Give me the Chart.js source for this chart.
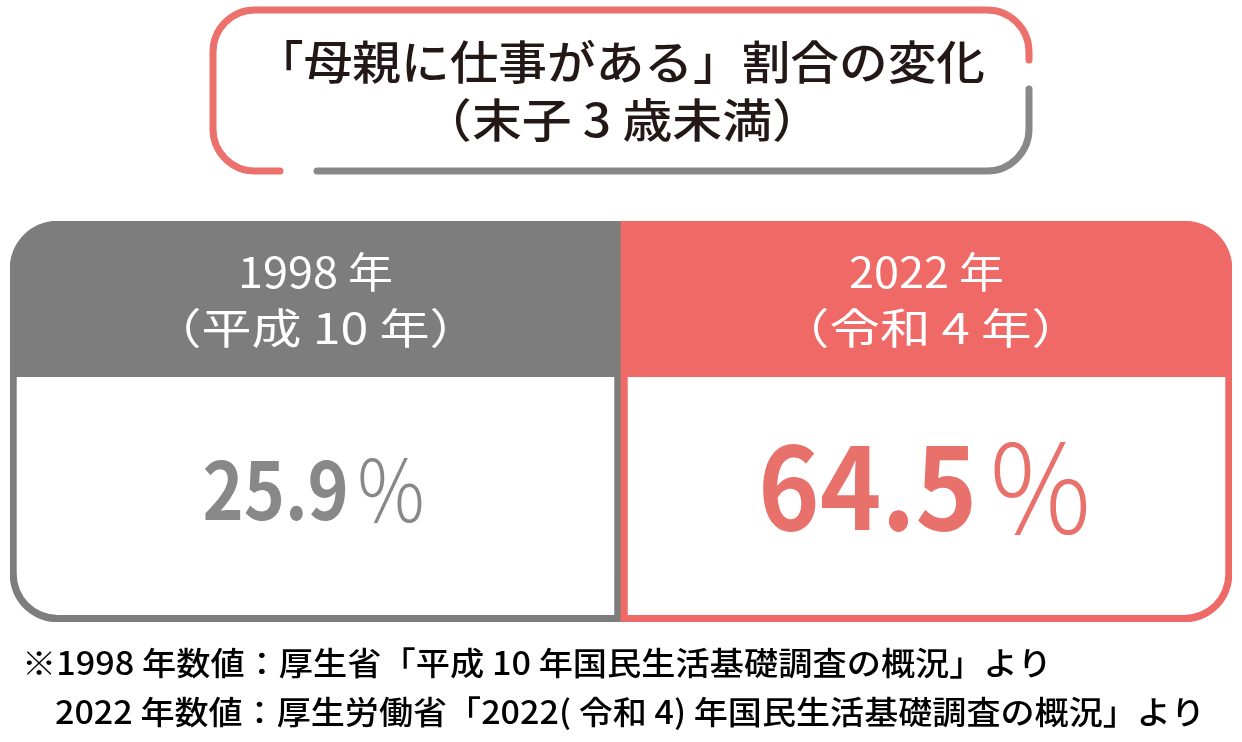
<!DOCTYPE html>
<html lang="ja">
<head>
<meta charset="utf-8">
<title>「母親に仕事がある」割合の変化</title>
<script src="https://cdn.jsdelivr.net/npm/chart.js@4.4.1/dist/chart.umd.min.js"></script>
<style>
    html, body { margin: 0; padding: 0; background: #fff; }
    canvas { display: block; }
</style>
</head>
<body>
<canvas id="shareChart" width="1242" height="742"></canvas>
<script>
const categories = ['1998 年', '2022 年'];
const eras = ['（平成 10 年）', '（令和 4 年）'];
const shares = [25.9, 64.5];
const titleLines = ['「母親に仕事がある」割合の変化', '（末子 3 歳未満）'];
const notes = [
    '※1998 年数値：厚生省「平成 10 年国民生活基礎調査の概況」より',
    '2022 年数値：厚生労働省「2022( 令和 4) 年国民生活基礎調査の概況」より',
];

const red = '#ec716d';
const gray = '#888888';
const headerColors = ['#7d7d7d', '#ef6a66'];
const valueColors = ['#888888', '#e8716c'];
const jp = '"Noto Sans CJK JP", "Noto Sans", sans-serif';

// card area inside each panel, in the hidden 0..1 y scale
const cardBottom = 0.0175;
const cardTop = 0.611;

// draw text centred on (cx, cy), squeezed or stretched to the given width
function fitText(ctx, text, cx, cy, width, font, color) {
    ctx.save();
    ctx.font = font;
    const natural = ctx.measureText(text).width;
    ctx.translate(cx, cy);
    ctx.scale(width / natural, 1);
    ctx.fillStyle = color;
    ctx.textAlign = 'center';
    ctx.textBaseline = 'middle';
    ctx.fillText(text, 0, 0);
    ctx.restore();
}

function drawValue(ctx, value, cx, baseline, width, size, color) {
    const digits = value.toFixed(1);
    const bold = `700 ${size}px ${jp}`;
    const light = `300 ${Math.round(size * 1.08)}px ${jp}`;
    ctx.save();
    ctx.font = bold;
    const wd = ctx.measureText(digits).width;
    ctx.font = light;
    const wp = ctx.measureText('%').width;
    const gap = size * 0.12;
    const k = width / (wd + gap + wp);
    ctx.translate(cx - width / 2, baseline);
    ctx.scale(k, 1);
    ctx.fillStyle = color;
    ctx.textAlign = 'left';
    ctx.textBaseline = 'alphabetic';
    ctx.font = bold;
    ctx.fillText(digits, 0, 0);
    ctx.font = light;
    ctx.fillText('%', wd + gap, size * 0.03);
    ctx.restore();
}

const titleBox = {
    id: 'titleBox',
    beforeDraw(chart) {
        const ctx = chart.ctx;
        const l = 213, r = 1029, t = 10, b = 171, rad = 42;
        ctx.save();
        ctx.lineWidth = 7;
        ctx.lineCap = 'round';

        ctx.strokeStyle = red;
        ctx.beginPath();
        ctx.moveTo(280, b);
        ctx.lineTo(l + rad, b);
        ctx.arcTo(l, b, l, b - rad, rad);
        ctx.lineTo(l, t + rad);
        ctx.arcTo(l, t, l + rad, t, rad);
        ctx.lineTo(r - rad, t);
        ctx.arcTo(r, t, r, t + rad, rad);
        ctx.lineTo(r, 60);
        ctx.stroke();

        ctx.strokeStyle = gray;
        ctx.beginPath();
        ctx.moveTo(r, 89);
        ctx.lineTo(r, b - rad);
        ctx.arcTo(r, b, r - rad, b, rad);
        ctx.lineTo(317, b);
        ctx.stroke();
        ctx.restore();

        fitText(ctx, titleLines[0], 620, 62, 730, `500 46px ${jp}`, '#231815');
        fitText(ctx, titleLines[1], 622, 120, 400, `500 46px ${jp}`, '#231815');
    },
};

const panelText = {
    id: 'panelText',
    afterDatasetsDraw(chart) {
        const ctx = chart.ctx;
        const y = chart.scales.y;
        const bars = chart.getDatasetMeta(1).data;
        const headWidths = [[155, 328], [155, 303]];
        const valueWidths = [222, 333];
        const valueSizes = [80, 114];
        const valueBase = [520, 530];
        bars.forEach((bar, i) => {
            const headMid = (y.getPixelForValue(1) + y.getPixelForValue(cardTop)) / 2;
            fitText(ctx, categories[i], bar.x, headMid - 27, headWidths[i][0], `400 42px ${jp}`, '#ffffff');
            fitText(ctx, eras[i], bar.x + (i ? 4 : 0), headMid + 29, headWidths[i][1], `400 42px ${jp}`, '#ffffff');
            drawValue(ctx, shares[i], bar.x - 2, valueBase[i], valueWidths[i], valueSizes[i], valueColors[i]);
        });
    },
    afterDraw(chart) {
        const ctx = chart.ctx;
        fitText(ctx, notes[0], 22 + 1030 / 2, 663, 1030, `500 32px ${jp}`, '#000000');
        fitText(ctx, notes[1], 55 + 1150 / 2, 712, 1150, `500 32px ${jp}`, '#000000');
    },
};

const outerRadius = 48;
const innerRadius = 41;

new Chart(document.getElementById('shareChart'), {
    type: 'bar',
    data: {
        labels: categories,
        datasets: [
            {
                data: categories.map(() => [0, 1]),
                backgroundColor: headerColors,
                barPercentage: 1,
                categoryPercentage: 1,
                borderSkipped: false,
                order: 2,
                borderRadius: (ctx) => ctx.dataIndex === 0
                    ? { topLeft: outerRadius, bottomLeft: outerRadius, topRight: 0, bottomRight: 0 }
                    : { topLeft: 0, bottomLeft: 0, topRight: outerRadius, bottomRight: outerRadius },
            },
            {
                data: categories.map(() => [cardBottom, cardTop]),
                backgroundColor: '#ffffff',
                barPercentage: 0.978,
                categoryPercentage: 1,
                borderSkipped: false,
                order: 1,
                borderRadius: (ctx) => ctx.dataIndex === 0
                    ? { topLeft: 0, bottomLeft: innerRadius, topRight: 0, bottomRight: 0 }
                    : { topLeft: 0, bottomLeft: 0, topRight: 0, bottomRight: innerRadius },
            },
        ],
    },
    options: {
        responsive: false,
        animation: false,
        devicePixelRatio: 1,
        layout: { padding: { left: 10, right: 10, top: 221, bottom: 120 } },
        plugins: { legend: { display: false }, tooltip: { enabled: false } },
        scales: {
            x: { display: false, stacked: false, grid: { display: false } },
            y: { display: false, min: 0, max: 1 },
        },
        datasets: { bar: { grouped: false } },
    },
    plugins: [titleBox, panelText],
});
</script>
</body>
</html>
